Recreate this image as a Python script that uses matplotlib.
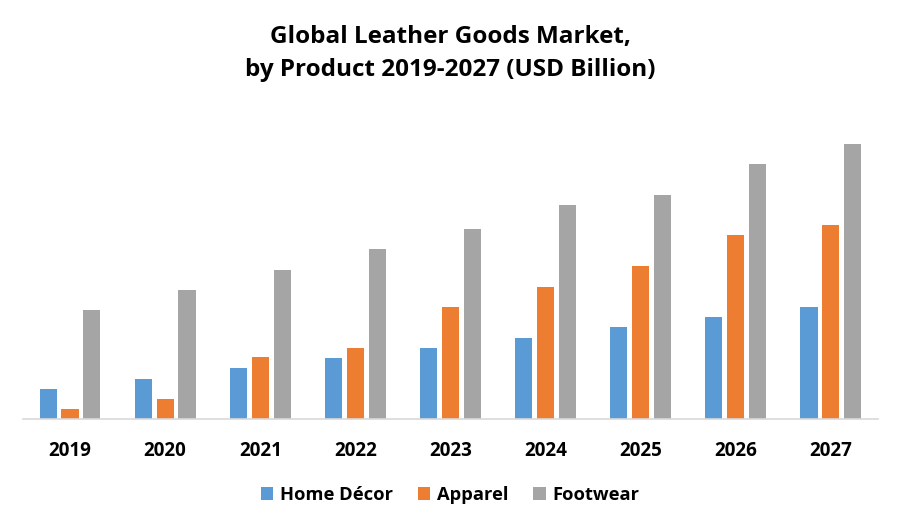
import numpy as np
import matplotlib
matplotlib.use('Agg')
import matplotlib.pyplot as plt

years = ['2019', '2020', '2021', '2022', '2023', '2024', '2025', '2026', '2027']
home_decor = [3.0, 4.0, 5.1, 6.1, 7.1, 8.1, 9.2, 10.2, 11.2]
apparel = [1.0, 2.0, 6.2, 7.1, 11.2, 13.2, 15.3, 18.4, 19.4]
footwear = [10.9, 12.9, 14.9, 17.0, 19.0, 21.4, 22.4, 25.5, 27.5]

plt.rcParams['font.family'] = ['Open Sans', 'DejaVu Sans']

fig = plt.figure(figsize=(9, 5.25), dpi=100)
ax = fig.add_axes([0.025, 0.2019, 0.951, 0.5714])

x = np.arange(len(years))
w = 0.18
off = 0.23
ax.bar(x - off, home_decor, w, color='#5B9BD5', label='Home Décor')
ax.bar(x, apparel, w, color='#ED7D31', label='Apparel')
ax.bar(x + off, footwear, w, color='#A5A5A5', label='Footwear')

ax.set_xlim(-0.5, len(years) - 0.5)
ax.set_ylim(0, 30)
ax.set_yticks([])
for s in ['top', 'right', 'left']:
    ax.spines[s].set_visible(False)
ax.spines['bottom'].set_color('#D9D9D9')
ax.spines['bottom'].set_linewidth(1.2)
ax.set_xticks(x)
ax.set_xticklabels(years, fontsize=13.5, fontweight='bold')
ax.tick_params(axis='x', length=0, pad=16)

fig.text(0.5, 0.898, 'Global Leather Goods Market,\nby Product 2019-2027 (USD Billion)',
         ha='center', va='center', fontsize=17.5, fontweight='bold', linespacing=1.5)

fig.legend(loc='center', bbox_to_anchor=(0.5, 0.058), ncol=3, frameon=False,
           prop={'size': 13.2, 'weight': 'bold'}, handlelength=0.7, handleheight=0.7,
           handletextpad=0.35, columnspacing=1.35)

fig.savefig('out.png', dpi=100)
